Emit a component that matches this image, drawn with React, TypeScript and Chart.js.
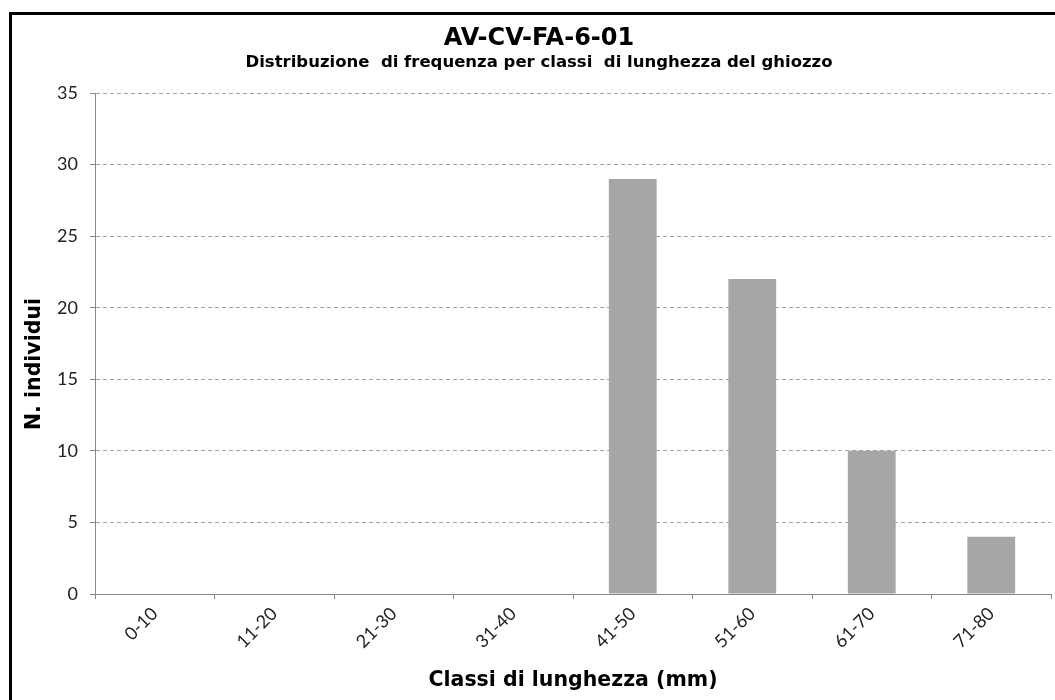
import React, { useEffect, useRef } from "react";
import { Chart, registerables } from "chart.js";

Chart.register(...registerables);

const categories = ["0-10", "11-20", "21-30", "31-40", "41-50", "51-60", "61-70", "71-80"];
const counts = [0, 0, 0, 0, 29, 22, 10, 4];
const yTicks = [0, 5, 10, 15, 20, 25, 30, 35];

const chartTitle = "AV-CV-FA-6-01";
const chartSubtitle = "Distribuzione  di frequenza per classi  di lunghezza del ghiozzo";
const xTitle = "Classi di lunghezza (mm)";
const yTitle = "N. individui";

const textPlugin = {
  id: "customText",
  afterDraw(chart: any) {
    const ctx = chart.ctx;
    const ca = chart.chartArea;
    ctx.save();
    // frame
    ctx.strokeStyle = "#000";
    ctx.lineWidth = 3;
    ctx.strokeRect(10.5, 13.5, 2000, 2000);
    ctx.fillStyle = "#000";
    ctx.textAlign = "center";
    ctx.textBaseline = "middle";
    ctx.font = "bold 24px 'DejaVu Sans'";
    ctx.fillText(chartTitle, 539, 39);
    ctx.font = "bold 16.5px 'DejaVu Sans'";
    ctx.fillText(chartSubtitle, 539, 63);
    ctx.font = "bold 20.5px 'DejaVu Sans'";
    ctx.fillText(xTitle, (ca.left + ca.right) / 2, 681);
    ctx.translate(35, 364);
    ctx.rotate(-Math.PI / 2);
    ctx.fillText(yTitle, 0, 0);
    ctx.restore();
  },
};

export default function App() {
  const ref = useRef<HTMLCanvasElement | null>(null);
  useEffect(() => {
    if (!ref.current) return;
    const chart = new Chart(ref.current, {
      type: "bar",
      data: {
        labels: categories,
        datasets: [
          {
            data: counts,
            backgroundColor: "#A6A6A6",
            borderWidth: 0,
            barPercentage: 0.4,
            categoryPercentage: 1,
          },
        ],
      },
      options: {
        animation: false,
        responsive: true,
        maintainAspectRatio: false,
        layout: { padding: { left: 0, right: 4, top: 93, bottom: 0 } },
        plugins: { legend: { display: false }, tooltip: { enabled: false }, title: { display: false } },
        scales: {
          x: {
            offset: true,
            grid: {
              offset: true,
              drawOnChartArea: false,
              drawTicks: true,
              tickLength: 5,
              tickColor: "#888",
            },
            border: { display: true, color: "#888", width: 1 },
            ticks: {
              autoSkip: false,
              maxRotation: 45,
              minRotation: 45,
              padding: 4,
              color: "#222",
              font: { family: "Lato", size: 18 },
            },
            afterFit: (s: any) => {
              s.height = 106;
            },
          },
          y: {
            min: 0,
            max: 35,
            afterBuildTicks: (s: any) => {
              s.ticks = yTicks.map((v) => ({ value: v }));
            },
            grid: {
              color: "#A0A0A0",
              lineWidth: 1,
              drawTicks: true,
              tickLength: 5,
              tickColor: "#888",
              tickBorderDash: [],
            },
            border: { display: true, color: "#888", width: 1, dash: [4, 3] },
            ticks: {
              padding: 12,
              color: "#222",
              font: { family: "Lato", size: 18 },
            },
            afterFit: (s: any) => {
              s.width = 95;
            },
          },
        },
      } as any,
      plugins: [textPlugin],
    });
    return () => chart.destroy();
  }, []);
  return (
    <div style={{ position: "fixed", left: 0, top: 0, width: 1055, height: 700, background: "#fff" }}>
      <canvas ref={ref} />
    </div>
  );
}
